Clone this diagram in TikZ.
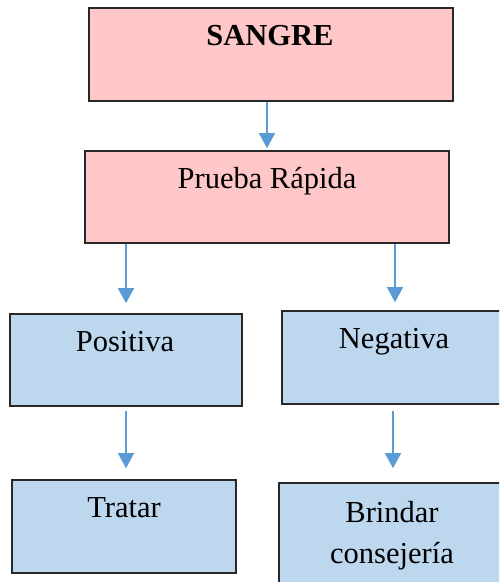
\documentclass[tikz,border=0pt]{standalone}
\usepackage{fontspec}
\setmainfont{Liberation Serif}
\usetikzlibrary{arrows.meta}
\definecolor{boxpink}{RGB}{255,199,199}
\definecolor{boxblue}{RGB}{189,215,238}
\definecolor{arrowblue}{RGB}{91,155,213}
\definecolor{edgegray}{RGB}{40,40,40}
\begin{document}
\begin{tikzpicture}[x=1pt,y=-1pt,
  box/.style={draw=edgegray, line width=1.6pt, rectangle, inner sep=0pt},
  pinkbox/.style={box, fill=boxpink},
  bluebox/.style={box, fill=boxblue},
  label text/.style={font=\fontsize{30.5}{41}\selectfont, inner sep=0pt, align=center, anchor=base},
  flow/.style={draw=arrowblue, line width=1.4pt, -{Triangle[width=16pt,length=15pt]}}]
\useasboundingbox (0,0) rectangle (499,582);
\clip (0,0) rectangle (499,582);
% boxes
\node[pinkbox, minimum width=364pt, minimum height=93pt] (sangre) at (271,54.5) {};
\node[pinkbox, minimum width=364pt, minimum height=92pt] (prueba) at (267,197) {};
\node[bluebox, minimum width=232pt, minimum height=92pt] (positiva) at (126,360) {};
\node[bluebox, minimum width=228pt, minimum height=93pt] (negativa) at (396,357.5) {};
\node[bluebox, minimum width=224pt, minimum height=93pt] (tratar) at (124,526.5) {};
\node[bluebox, minimum width=226pt, minimum height=120pt] (brindar) at (392,543) {};
% texts (placed on their baselines)
\node[label text, font=\fontsize{30.5}{41}\selectfont\bfseries] (tsangre) at (270,45) {SANGRE};
\node[label text] (tprueba) at (267,188) {Prueba Rápida};
\node[label text] (tpositiva) at (125,351) {Positiva};
\node[label text] (tnegativa) at (394,348) {Negativa};
\node[label text] (ttratar) at (124,517) {Tratar};
\node[label text] (tbrindar1) at (392,522) {Brindar};
\node[label text] (tbrindar2) at (392,563) {consejería};
% connectors
\draw[flow, shorten >=2pt] (sangre.south -| 267,0) -- (prueba.north -| 267,0);
\draw[flow, shorten >=10pt] (prueba.south -| 126,0) -- (positiva.north -| 126,0);
\draw[flow, shorten >=8pt] (prueba.south -| 395,0) -- (negativa.north -| 395,0);
\draw[flow, shorten <=4pt, shorten >=11pt] (positiva.south -| 126,0) -- (tratar.north -| 126,0);
\draw[flow, shorten <=6pt, shorten >=14pt] (negativa.south -| 393,0) -- (brindar.north -| 393,0);
\end{tikzpicture}
\end{document}
